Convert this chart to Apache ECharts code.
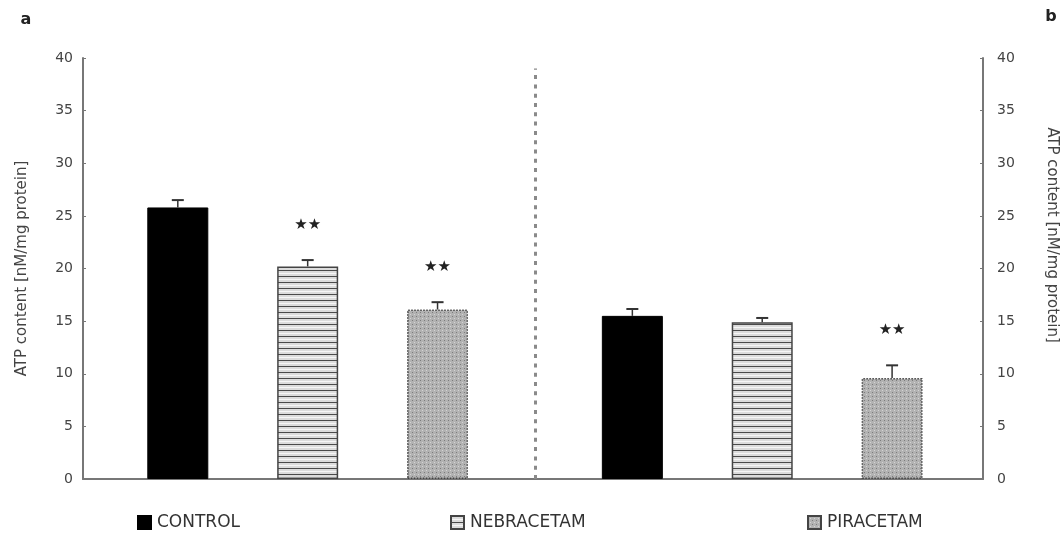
<!DOCTYPE html>
<html>
<head>
<meta charset="utf-8">
<script src="https://cdn.jsdelivr.net/npm/echarts@6/dist/echarts.min.js"></script>
<style>
html, body { margin: 0; padding: 0; background: #fff; }
#chart { width: 1063px; height: 536px; }
</style>
</head>
<body>
<div id="chart"></div>
<script>
const treatments = ['CONTROL', 'NEBRACETAM', 'PIRACETAM']
const panelLabels = ['a', 'b']
const atpA = [25.8, 20.2, 16.1]
const atpB = [15.5, 14.9, 9.6]
const semA = [0.7, 0.6, 0.7]
const semB = [0.65, 0.4, 1.2]
const sigA = ['', '**', '**']
const sigB = ['', '', '**']
const yName = 'ATP content [nM/mg protein]'

const font = '"DejaVu Sans", Verdana, sans-serif'

// small canvas tiles used as bar fills
const stripeTile = () => {
  const c = document.createElement('canvas')
  c.width = 4; c.height = 6
  const g = c.getContext('2d')
  g.fillStyle = '#dcdcdc'; g.fillRect(0, 0, 4, 6)
  g.fillStyle = '#4a4a4a'; g.fillRect(0, 0, 4, 1)
  g.fillStyle = '#f6f6f6'; g.fillRect(0, 3, 4, 1)
  return c
}
const dotTile = () => {
  const c = document.createElement('canvas')
  c.width = 4; c.height = 4
  const g = c.getContext('2d')
  g.fillStyle = '#b2b2b2'; g.fillRect(0, 0, 4, 4)
  g.fillStyle = '#7c7c7c'; g.fillRect(0, 0, 1, 1)
  g.fillStyle = '#d4d4d4'; g.fillRect(2, 2, 1, 1)
  return c
}

const barStyles = [
  { color: '#000', borderColor: '#000', borderWidth: 1 },
  { color: { image: stripeTile(), repeat: 'repeat' }, borderColor: '#444', borderWidth: 1.5 },
  { color: { image: dotTile(), repeat: 'repeat' }, borderColor: '#444', borderWidth: 1.5, borderType: 'dotted' }
]

// panel a bars at 1..3, panel b bars at 4.5..6.5
const pos = (panel, t) => 1 + t + panel * 3.5

const barSeries = treatments.map((name, t) => ({
  name,
  type: 'bar',
  barWidth: 61,
  barGap: '-100%',
  data: [[pos(0, t), atpA[t]], [pos(1, t), atpB[t]]],
  itemStyle: barStyles[t],
  emphasis: { disabled: true }
}))

const marks = []
treatments.forEach((name, t) => {
  marks.push([pos(0, t), atpA[t], semA[t], sigA[t]])
  marks.push([pos(1, t), atpB[t], semB[t], sigB[t]])
})

const errorSeries = {
  type: 'custom',
  silent: true,
  z: 5,
  data: marks.map(m => [m[0], m[1], m[2]]),
  encode: { x: 0, y: 1 },
  renderItem: (params, api) => {
    const m = marks[params.dataIndex]
    const top = api.coord([m[0], m[1]])
    const hi = api.coord([m[0], m[1] + m[2]])
    const children = [
      { type: 'line', shape: { x1: top[0], y1: top[1], x2: hi[0], y2: hi[1] }, style: { stroke: '#333', lineWidth: 1.5 } },
      { type: 'line', shape: { x1: hi[0] - 6, y1: hi[1], x2: hi[0] + 6, y2: hi[1] }, style: { stroke: '#333', lineWidth: 2 } }
    ]
    if (m[3]) {
      children.push({
        type: 'text',
        x: hi[0], y: hi[1] - 35,
        style: { text: m[3].replace(/\*/g, '★'), fontSize: 15, fontFamily: '"DejaVu Sans"', fill: '#222', align: 'center', verticalAlign: 'middle' }
      })
    }
    return { type: 'group', children }
  },
  markLine: {
    silent: true,
    symbol: 'none',
    label: { show: false },
    lineStyle: { type: [4, 5.3], color: '#8a8a8a', width: 3 },
    data: [[{ coord: [3.75, 0] }, { coord: [3.75, 39] }]]
  }
}

const axisLine = { show: true, lineStyle: { color: '#777', width: 2 } }

const option = {
  animation: false,
  backgroundColor: '#fff',
  grid: { left: 83, right: 80, top: 58, bottom: 57 },
  legend: [137, 450, 807].map((left, i) => ({
    data: [treatments[i]],
    left, top: 514,
    padding: 0,
    icon: 'rect',
    itemWidth: 13, itemHeight: 13,
    textStyle: { fontSize: 17, color: '#333', fontFamily: font, padding: [0, 0, 0, 1] },
    selectedMode: false
  })),
  xAxis: {
    type: 'value', min: 0.27, max: 7.2,
    axisLine, axisTick: { show: false }, axisLabel: { show: false }, splitLine: { show: false }
  },
  yAxis: [
    {
      type: 'value', position: 'left', min: 0, max: 40, interval: 5,
      axisLine, axisTick: { show: true, inside: true, length: 3, lineStyle: { color: '#777' } },
      axisLabel: { fontSize: 14, color: '#444', margin: 10, fontFamily: font },
      splitLine: { show: false },
      name: yName, nameLocation: 'middle', nameGap: 53, nameRotate: 90,
      nameTextStyle: { fontSize: 15, color: '#444', fontFamily: font }
    },
    {
      type: 'value', position: 'right', min: 0, max: 40, interval: 5,
      axisLine, axisTick: { show: true, inside: true, length: 3, lineStyle: { color: '#777' } },
      axisLabel: { fontSize: 14, color: '#444', margin: 14, fontFamily: font },
      splitLine: { show: false }
    }
  ],
  graphic: [
    { type: 'text', x: 26, y: 20, style: { text: panelLabels[0], fontSize: 16, fontWeight: 'bold', fill: '#222', fontFamily: font, align: 'center', verticalAlign: 'middle' } },
    { type: 'text', x: 1051, y: 17, style: { text: panelLabels[1], fontSize: 16, fontWeight: 'bold', fill: '#222', fontFamily: font, align: 'center', verticalAlign: 'middle' } },
    { type: 'text', x: 1052, y: 235, rotation: -Math.PI / 2, style: { text: yName, fontSize: 15, fill: '#444', fontFamily: font, align: 'center', verticalAlign: 'middle' } }
  ],
  series: [...barSeries, errorSeries]
}

const chart = echarts.init(document.getElementById('chart'))
chart.setOption(option)
window.addEventListener('resize', () => chart.resize())
</script>
</body>
</html>
